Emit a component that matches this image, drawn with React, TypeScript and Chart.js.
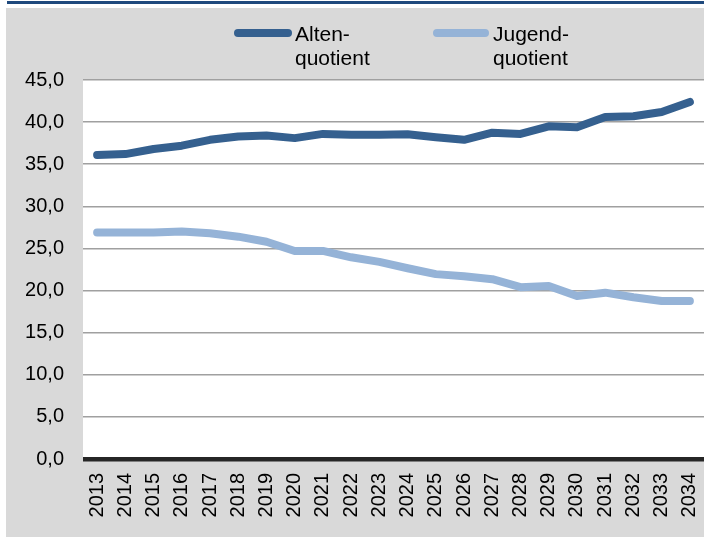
import React, { useEffect, useRef } from "react";
import { Chart, registerables } from "chart.js";

Chart.register(...registerables);

const years = ["2013","2014","2015","2016","2017","2018","2019","2020","2021","2022","2023","2024","2025","2026","2027","2028","2029","2030","2031","2032","2033","2034"];
const altenquotient = [36.1, 36.2, 36.8, 37.2, 37.9, 38.3, 38.4, 38.1, 38.6, 38.5, 38.5, 38.55, 38.2, 37.9, 38.75, 38.6, 39.5, 39.4, 40.6, 40.7, 41.2, 42.4];
const jugendquotient = [26.9, 26.9, 26.9, 27.0, 26.8, 26.4, 25.8, 24.7, 24.7, 23.95, 23.4, 22.65, 21.95, 21.7, 21.35, 20.4, 20.55, 19.35, 19.75, 19.2, 18.75, 18.75];
const seriesLabels = [["Alten-", "quotient"], ["Jugend-", "quotient"]];
const seriesColors = ["#35608f", "#95b3d7"];

const FONT = "'Liberation Sans', Arial, sans-serif";

const framePlugin = {
  id: "frame",
  beforeDraw(chart: any) {
    const { ctx, chartArea } = chart;
    ctx.save();
    ctx.fillStyle = "#ffffff";
    ctx.fillRect(0, 0, chart.width, chart.height);
    ctx.fillStyle = "#1f497d";
    ctx.fillRect(7, 1, chart.width - 7, 3);
    ctx.fillStyle = "#d9d9d9";
    ctx.fillRect(6, 8, chart.width - 6, 529);
    ctx.fillStyle = "#ffffff";
    ctx.fillRect(chartArea.left, chartArea.top, chartArea.right - chartArea.left, chartArea.bottom - chartArea.top);
    ctx.restore();
  },
  afterDraw(chart: any) {
    const { ctx } = chart;
    const items = [
      { x1: 234, x2: 292, tx: 295 },
      { x1: 433, x2: 489, tx: 493 },
    ];
    ctx.save();
    items.forEach((it, i) => {
      ctx.strokeStyle = seriesColors[i];
      ctx.lineWidth = 8;
      ctx.lineCap = "round";
      ctx.beginPath();
      ctx.moveTo(it.x1 + 4, 33);
      ctx.lineTo(it.x2 - 4, 33);
      ctx.stroke();
      ctx.fillStyle = "#000000";
      ctx.font = `21px ${FONT}`;
      ctx.textAlign = "left";
      ctx.textBaseline = "alphabetic";
      seriesLabels[i].forEach((t, j) => {
        ctx.fillText(t, it.tx, 41 + j * 24);
      });
    });
    ctx.restore();
  },
};

export default function App() {
  const ref = useRef<HTMLCanvasElement>(null);
  useEffect(() => {
    if (!ref.current) return;
    const chart = new Chart(ref.current, {
      type: "line",
      data: {
        labels: years,
        datasets: [
          {
            label: "Altenquotient",
            data: altenquotient,
            borderColor: seriesColors[0],
            backgroundColor: seriesColors[0],
            borderWidth: 8,
            borderCapStyle: "round",
            borderJoinStyle: "round",
            pointRadius: 0,
            tension: 0,
          },
          {
            label: "Jugendquotient",
            data: jugendquotient,
            borderColor: seriesColors[1],
            backgroundColor: seriesColors[1],
            borderWidth: 8,
            borderCapStyle: "round",
            borderJoinStyle: "round",
            pointRadius: 0,
            tension: 0,
          },
        ],
      },
      options: {
        responsive: false,
        animation: false,
        devicePixelRatio: 1,
        layout: { padding: { top: 80, left: 0, right: 0, bottom: 0 } },
        plugins: {
          legend: { display: false },
          tooltip: { enabled: false },
          title: { display: false },
        },
        scales: {
          x: {
            offset: true,
            grid: { display: false, drawTicks: false },
            border: { display: false },
            ticks: {
              minRotation: 90,
              maxRotation: 90,
              autoSkip: false,
              padding: 14,
              color: "#000000",
              font: { family: FONT, size: 20 },
            },
            afterFit(scale: any) {
              scale.height = 81;
              scale.paddingLeft = 0;
              scale.paddingRight = 0;
            },
          },
          y: {
            min: 0,
            max: 45,
            ticks: {
              stepSize: 5,
              padding: 19,
              color: "#000000",
              font: { family: FONT, size: 20 },
              callback: (v: any) => Number(v).toFixed(1).replace(".", ","),
            },
            grid: {
              drawTicks: false,
              color: (c: any) => (c.tick && c.tick.value === 0 ? "#262626" : "#a0a0a0"),
              lineWidth: (c: any) => (c.tick && c.tick.value === 0 ? 4.5 : 1.5),
            },
            border: { display: false },
            afterFit(scale: any) {
              scale.width = 83;
              scale.paddingTop = 0;
              scale.paddingBottom = 0;
            },
          },
        },
      },
      plugins: [framePlugin],
    });
    return () => chart.destroy();
  }, []);
  return (
    <div style={{ position: "absolute", left: 0, top: 0, width: 704, height: 540, background: "#fff" }}>
      <canvas ref={ref} width={704} height={540} style={{ display: "block", width: 704, height: 540 }} />
    </div>
  );
}
